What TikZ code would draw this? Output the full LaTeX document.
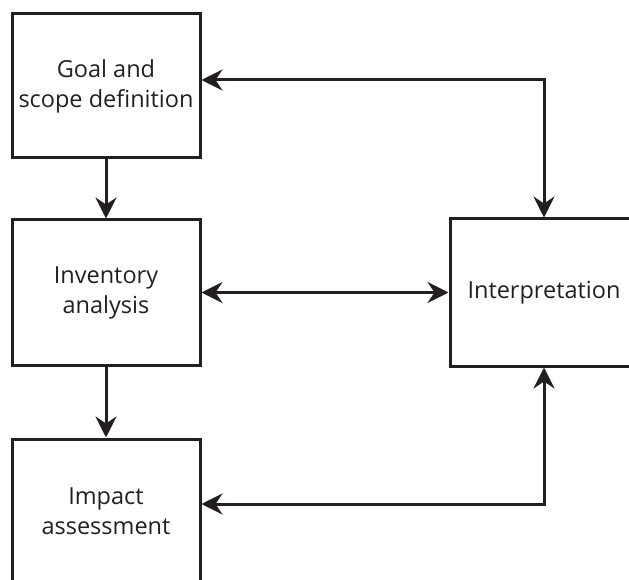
\documentclass[tikz,border=0pt]{standalone}
\usepackage{fontspec}
\setmainfont{Open Sans}
\usetikzlibrary{arrows.meta,calc}
\definecolor{ink}{HTML}{231F20}
\begin{document}
\begin{tikzpicture}[x=1pt,y=-1pt,
  box/.style={draw=ink,line width=3pt,minimum width=188pt,align=center,
    font=\fontsize{23.5}{30}\selectfont,text=ink,inner sep=0pt},
  tip/.tip={Stealth[length=21pt,width=21pt,inset=7pt]},
  conn/.style={draw=ink,line width=3pt,-tip},
  bconn/.style={draw=ink,line width=3pt,tip-tip}]
\useasboundingbox (0,0) rectangle (629,580);
\begin{scope}
\clip (0,0) rectangle (629,580);
\node[box,minimum height=144pt] (goal) at (106,86) {Goal and\\scope definition};
\node[box,minimum height=145pt] (inv) at (106,292.5) {Inventory\\analysis};
\node[box,minimum height=145pt] (imp) at (106,511.5) {Impact\\assessment};
\node[box,minimum height=147pt] (int) at (544,292.5) {Interpretation};
\coordinate (c1) at (544,80);
\coordinate (c2) at (544,504);
\draw[conn] (goal.south) -- (inv.north);
\draw[conn] (inv.south) -- (imp.north);
\draw[bconn] (inv.east) -- (int.west);
\draw[bconn] (goal.east |- c1) -- (c1) -- (int.north);
\draw[bconn] (imp.east |- c2) -- (c2) -- (int.south);
\end{scope}
\end{tikzpicture}
\end{document}
